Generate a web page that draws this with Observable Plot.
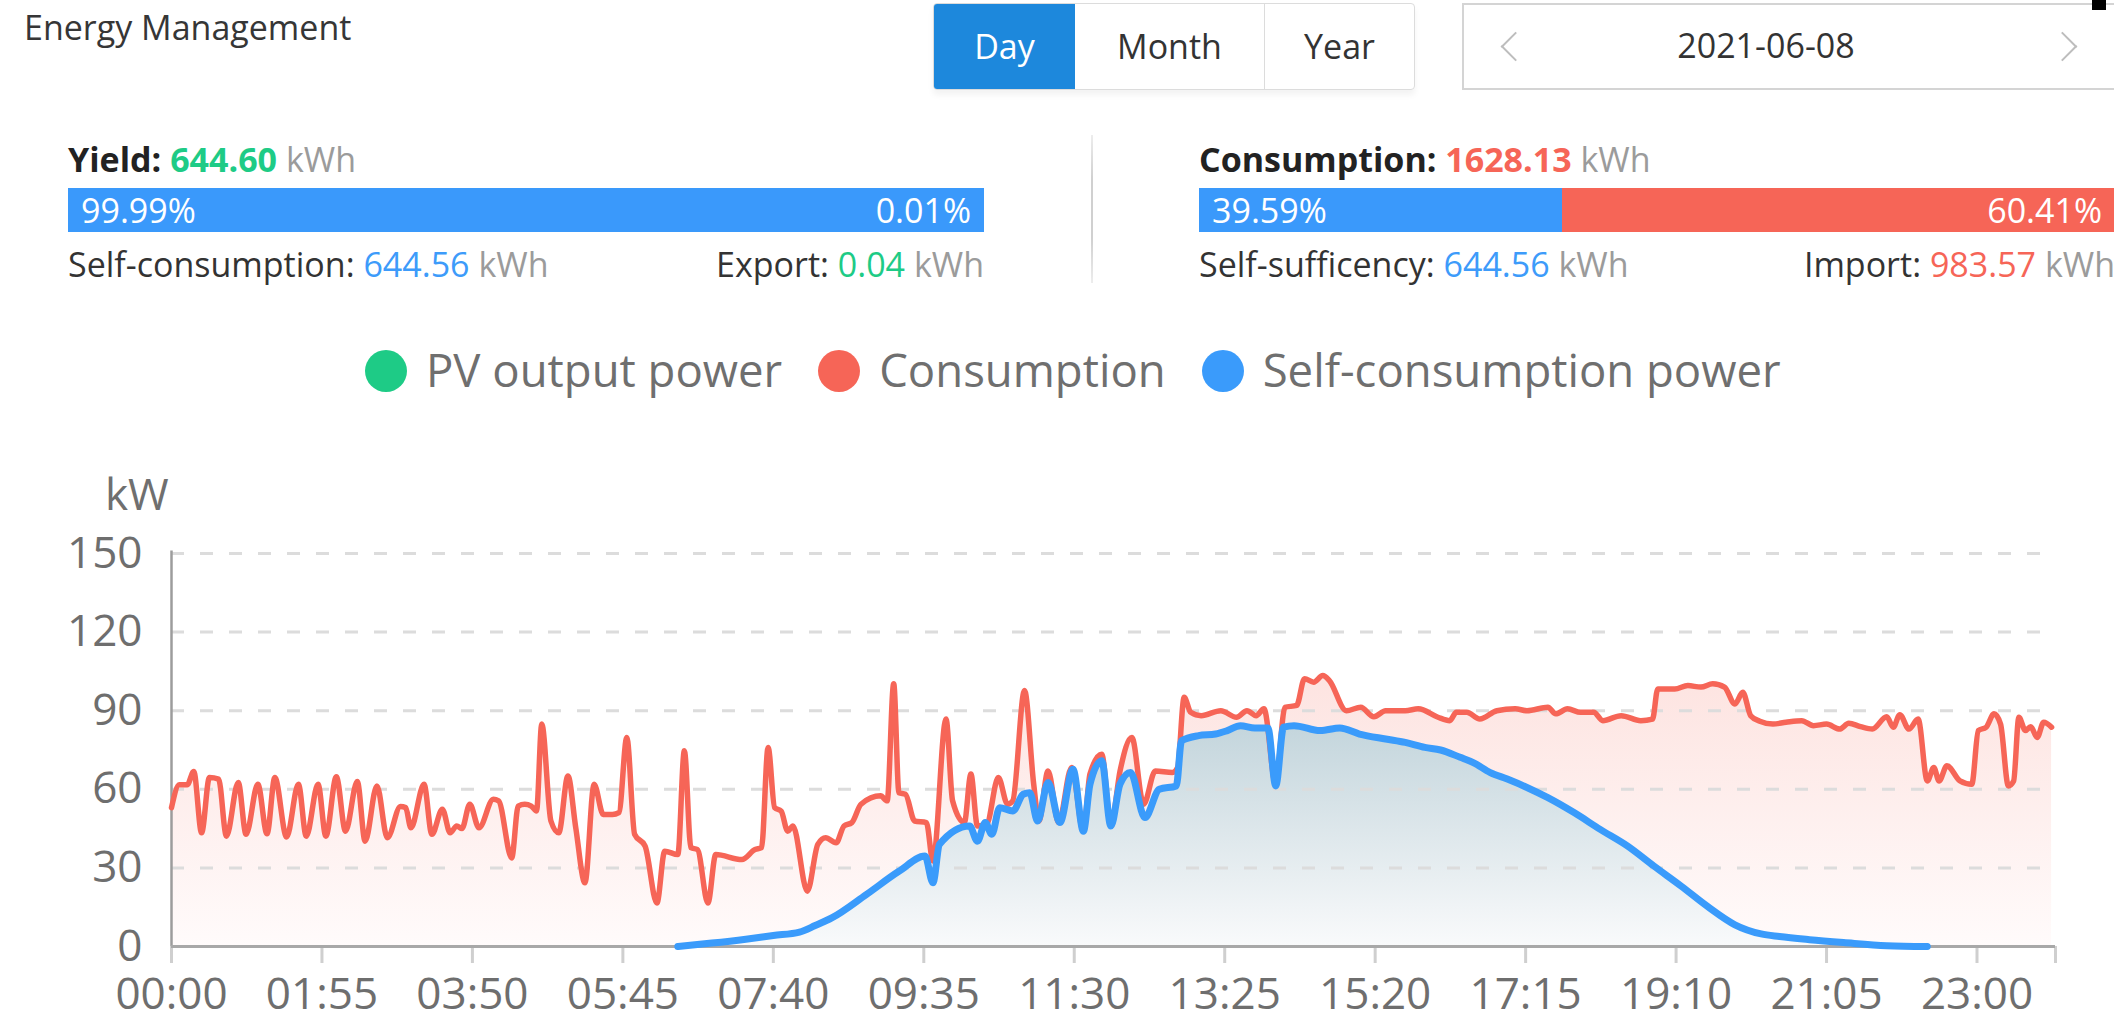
<!DOCTYPE html>
<html><head><meta charset="utf-8">
<script src="https://cdn.jsdelivr.net/npm/d3@7"></script>
<script src="https://cdn.jsdelivr.net/npm/@observablehq/plot@0.6"></script>
<style>
html,body{margin:0;padding:0;background:#fff;}
body{width:2114px;height:1016px;overflow:hidden;position:relative;font-family:"Open Sans",sans-serif;color:#333;}
.abs{position:absolute;line-height:1;white-space:nowrap;}
.st{font-size:34px;}
.b{font-weight:700;color:#222;}
.g{color:#1ecb86;}
.r{color:#f66557;}
.bl{color:#3d9bfa;}
.u{color:#9b9b9b;}
.bar{position:absolute;height:44px;line-height:44px;font-size:34px;color:#fff;overflow:hidden;}
.btns{position:absolute;left:933px;top:3px;height:85px;width:480px;border:1px solid #dcdcdc;border-radius:4px;display:flex;box-shadow:0 5px 6px rgba(0,0,0,0.05);overflow:hidden;}
.btns div{height:85px;line-height:85px;font-size:34px;text-align:center;color:#333;}
.chev{position:absolute;width:19px;height:19px;border-left:2px solid #bdbdbd;border-top:2px solid #bdbdbd;}
#legend{position:absolute;left:365px;top:347px;display:flex;align-items:center;font-size:45.5px;line-height:1;color:#6f6f6f;white-space:nowrap;}
#legend .it{display:flex;align-items:center;margin-right:36px;}
#legend .dot{width:42px;height:42px;border-radius:50%;margin-right:19px;margin-top:3px;}
#chart{position:absolute;left:0;top:440px;}
</style></head><body>

<div class="abs" style="left:24px;top:10px;font-size:34px;color:#363636;">Energy Management</div>

<div class="btns">
  <div style="width:141px;background:#1d88dc;color:#fff;">Day</div>
  <div style="width:189px;border-right:1px solid #dcdcdc;">Month</div>
  <div style="width:149px;">Year</div>
</div>

<div style="position:absolute;left:1462px;top:3px;width:660px;height:83px;border:2px solid #d4d4d4;"></div>
<div class="chev" style="left:1505px;top:36px;transform:rotate(-45deg);"></div>
<div class="chev" style="left:2052px;top:36px;transform:rotate(135deg);"></div>
<div class="abs" style="left:1766px;top:28px;font-size:34px;color:#333;transform:translateX(-50%);">2021-06-08</div>
<div style="position:absolute;left:2092px;top:0;width:14px;height:10px;background:#000;"></div>

<!-- left stats -->
<div class="abs st" style="left:68px;top:142px;"><span class="b">Yield:</span> <span class="g" style="font-weight:700;">644.60</span> <span class="u">kWh</span></div>
<div class="bar" style="left:68px;top:188px;width:916px;background:#3a99fb;">
  <span style="position:absolute;left:13px;">99.99%</span>
  <span style="position:absolute;right:13px;">0.01%</span>
</div>
<div class="abs st" style="left:68px;top:247px;">Self-consumption: <span class="bl">644.56</span> <span class="u">kWh</span></div>
<div class="abs st" style="right:1130px;top:247px;">Export: <span class="g">0.04</span> <span class="u">kWh</span></div>

<div style="position:absolute;left:1091px;top:135px;width:2px;height:148px;background:linear-gradient(#ededed,#d0d0d0 30%,#d0d0d0 70%,#ededed);"></div>

<!-- right stats -->
<div class="abs st" style="left:1199px;top:142px;"><span class="b">Consumption:</span> <span class="r" style="font-weight:700;">1628.13</span> <span class="u">kWh</span></div>
<div class="bar" style="left:1199px;top:188px;width:916px;background:#f66557;">
  <div style="position:absolute;left:0;top:0;height:44px;width:39.59%;background:#3a99fb;"></div>
  <span style="position:absolute;left:13px;">39.59%</span>
  <span style="position:absolute;right:13px;">60.41%</span>
</div>
<div class="abs st" style="left:1199px;top:247px;">Self-sufficency: <span class="bl">644.56</span> <span class="u">kWh</span></div>
<div class="abs st" style="left:2115px;top:247px;transform:translateX(-100%);">Import: <span class="r">983.57</span> <span class="u">kWh</span></div>

<div id="legend"></div>
<div class="abs" style="left:105px;top:471px;font-size:44px;color:#6f6f6f;">kW</div>
<div id="chart"></div>

<script>
// ---- data ----
const seriesNames = ["PV output power", "Consumption", "Self-consumption power"];
const seriesColors = ["#1ecb86", "#f66557", "#3a9bfb"];

const xTickLabels = ["00:00","01:55","03:50","05:45","07:40","09:35","11:30","13:25","15:20","17:15","19:10","21:05","23:00"];
const yTicks = [0, 30, 60, 90, 120, 150];

// consumption (kW) — minute of day
const consMinute = [0,6,12,17,23,29,36,42,51,57,66,73,79,88,97,103,112,118,126,133,142,148,157,165,175,179,183,193,199,207,213,218,222,228,235,
  246,250,260,265,270,275,279,283,290,296,303,309,316,323,330,337,342,348,354,362,371,377,387,392,397,402,410,416,436,446,451,456,461,466,471,475,
  486,494,500,508,514,520,527,542,547,552,556,561,568,577,582,592,597,606,611,616,623,632,639,643,652,659,663,670,678,688,697,702,711,718,725,
  734,743,752,765,769,774,779,787,802,814,822,829,835,844,851,860,866,873,880,885,898,909,919,928,943,953,968,
  977,982,990,1000,1013,1027,1036,1052,1058,1067,1077,1087,1094,1108,1123,1132,1136,1149,1159,1169,1178,1187,1195,1201,1207,
  1214,1224,1234,1246,1255,1265,1275,1282,1291,1300,1311,1316,1321,1328,1335,1342,1347,1351,1357,1367,1376,1381,1387,1393,1398,1404,1408,1412,1417,1421,1426,1431,1437];
const consKW = [53,61.7,61.7,66.8,43.4,64.5,63.9,42.1,62.6,42.8,61.9,43,64.5,41.8,61.9,42.1,61.9,42.1,64.8,44,63,40.2,61.3,41.5,53.4,53,45.3,61.9,42.8,52.4,43.4,46,45,54.3,45.3,
  56.2,55.6,33.8,53.6,54.3,53.6,51.7,84.9,47.9,43.4,65.1,45.3,24.3,61.9,50.4,50.4,51.1,79.8,42.8,38.3,16.6,36.4,35.1,74.7,37.7,37,16.6,35.1,33.2,37,37.7,76,53,51.7,44,46,
  21.1,39,41.5,39.6,46,47.3,54.3,57.5,55.6,100.3,58.7,58.1,47.9,47.3,32.6,86.8,55.6,47.3,65.8,46,46.6,64.5,54.3,55.6,97.7,62,47.9,67,47.3,68.3,44,65.8,73.4,46,67,
  79.8,54.3,67,66.4,68.3,95.1,89.4,88.1,90,87.5,90,88.1,90.7,62,91.3,92,102.2,100.9,103.4,101.5,90,91.3,87.7,90,90,90.7,87.5,
  86.2,89.4,89.4,86.8,90,90.7,90,91.3,88.8,90.7,89.4,89.4,86.2,88.1,86.2,86.8,98.3,98.3,99.6,99,100.3,99,92.6,97,88.1,
  86,84.9,85.6,86.2,84.3,84.9,83,85.2,83.9,83,87.7,83.7,88.5,83,86.8,63.2,68.3,63.2,69,63.2,61.9,82.4,83.7,88.8,84.9,61.3,63.2,87.5,82.4,83.9,79.8,85.6,83.7];

// self-consumption power (kW) — minute of day
const selfMinute = [387,413,439,460,480,492,505,531,556,576,582,587,610,616,622,627,633,643,651,656,662,670,679,689,697,702,711,718,725,
  733,744,755,768,772,785,798,807,817,828,838,844,850,858,878,893,908,928,943,958,
  970,985,995,1008,1021,1036,1052,1072,1092,1113,1133,1154,1174,1195,1215,1229,1252,1278,1311,1342];
const selfKW = [0,1.3,2.8,4.2,5.5,8,11,19.8,28.7,34.5,24.3,39,46,40.2,47.3,42.8,53,51.7,58.1,58.7,47.9,62.6,47.3,67.7,44,61.9,70.9,46,62,
  66.4,49.2,60,61.3,78.5,80.5,81.1,82.4,84.3,83.4,83.4,61.3,83.7,84.3,82.4,83.4,81.1,79.2,77.9,76,
  75,72.2,70.2,66.4,63.9,60.7,56.8,51.1,44.7,38.3,30.7,23,15.3,8.3,4.8,3.8,2.6,1.5,0.3,0];

// ---- legend ----
const legend = document.getElementById("legend");
seriesNames.forEach((n, i) => {
  const it = document.createElement("div");
  it.className = "it";
  it.innerHTML = `<div class="dot" style="background:${seriesColors[i]}"></div><span>${n}</span>`;
  legend.appendChild(it);
});

// ---- chart ----
const consData = consMinute.map((m, i) => ({m, v: consKW[i]}));
const selfData = selfMinute.map((m, i) => ({m, v: selfKW[i]}));
const toMin = s => { const [h, mm] = s.split(":").map(Number); return h * 60 + mm; };
const tickMin = xTickLabels.map(toMin);
const labelOf = new Map(tickMin.map((m, i) => [m, xTickLabels[i]]));

function gradientDefs(index, scales) {
  const y = scales.y;
  const defs = d3.create("svg:defs");
  const gr = defs.append("linearGradient").attr("id", "gRed").attr("gradientUnits", "userSpaceOnUse")
    .attr("x1", 0).attr("x2", 0).attr("y1", y(105)).attr("y2", y(0));
  gr.append("stop").attr("offset", 0).attr("stop-color", "rgb(253,227,224)");
  gr.append("stop").attr("offset", 1).attr("stop-color", "rgb(255,251,251)");
  const gb = defs.append("linearGradient").attr("id", "gBlue").attr("gradientUnits", "userSpaceOnUse")
    .attr("x1", 0).attr("x2", 0).attr("y1", y(85)).attr("y2", y(0));
  gb.append("stop").attr("offset", 0).attr("stop-color", "rgb(195,213,220)");
  gb.append("stop").attr("offset", 1).attr("stop-color", "rgb(249,250,251)");
  return defs.node();
}

const chart = Plot.plot({
  width: 2114,
  height: 576,
  marginLeft: 171,
  marginRight: 59,
  marginTop: 113,
  marginBottom: 70,
  x: {domain: [0, 1440], axis: null, label: null},
  y: {domain: [0, 150], axis: null, label: null},
  style: {fontFamily: "Open Sans, sans-serif", background: "transparent", overflow: "visible"},
  marks: [
    gradientDefs,
    Plot.areaY(consData, {x: "m", y: "v", curve: "monotone-x", fill: "url(#gRed)"}),
    Plot.areaY(selfData, {x: "m", y: "v", curve: "monotone-x", fill: "url(#gBlue)"}),
    Plot.ruleY(yTicks.filter(d => d > 0), {stroke: "#dcdcdc", strokeWidth: 3, strokeDasharray: "13,16"}),
    Plot.ruleX([0], {y1: 0, y2: 151, stroke: "#9c9c9c", strokeWidth: 2.5}),
    Plot.axisX([...tickMin, 1440], {tickSize: 17, tickPadding: 14, stroke: "#cfcfcf", strokeWidth: 3,
      fill: "#6e6e6e", fontSize: 44, label: null, tickFormat: m => labelOf.get(m) ?? ""}),
    Plot.ruleY([0], {stroke: "#a8a8a8", strokeWidth: 3}),
    Plot.axisY(yTicks, {tickSize: 0, tickPadding: 29, fill: "#6e6e6e", fontSize: 44, label: null}),
    Plot.lineY(consData, {x: "m", y: "v", curve: "monotone-x", stroke: seriesColors[1], strokeWidth: 5.5}),
    Plot.lineY(selfData, {x: "m", y: "v", curve: "monotone-x", stroke: seriesColors[2], strokeWidth: 7})
  ]
});
document.getElementById("chart").appendChild(chart);
</script>
</body></html>
